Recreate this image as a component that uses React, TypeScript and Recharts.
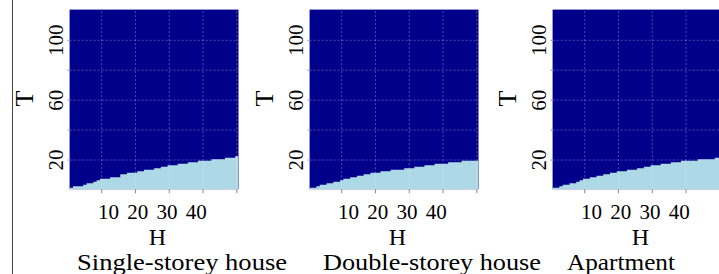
import { Area, AreaChart, CartesianGrid, ReferenceLine, XAxis, YAxis } from 'recharts';

// threshold T (last light-blue cell) for each H = 1..50
const singleStorey = [
  1, 2, 2, 2, 3, 4, 4, 5, 6, 7,
  7, 7, 8, 8, 8, 10, 10, 11, 11, 11,
  12, 12, 13, 13, 13, 14, 14, 15, 15, 16,
  16, 16, 17, 17, 17, 18, 18, 18, 19, 19,
  19, 19, 20, 20, 20, 20, 21, 21, 21, 22,
];
const doubleStorey = [
  1, 1, 2, 3, 3, 4, 4, 5, 5, 6,
  7, 7, 8, 8, 9, 9, 10, 10, 11, 11,
  11, 12, 12, 12, 13, 13, 13, 13, 14, 14,
  14, 15, 15, 15, 16, 16, 16, 17, 17, 17,
  17, 18, 18, 18, 18, 19, 19, 19, 19, 19,
];
const apartment = [
  1, 1, 2, 3, 3, 4, 4, 5, 6, 7,
  7, 8, 8, 9, 9, 10, 10, 11, 11, 12,
  12, 12, 13, 13, 13, 14, 14, 15, 15, 16,
  16, 16, 17, 17, 17, 18, 18, 18, 19, 19,
  19, 19, 19, 20, 20, 20, 20, 20, 21, 21,
];

const panelTitles = ['Single-storey house', 'Double-storey house', 'Apartment'];
const xTicks = [10, 20, 30, 40, 50];
const xLabelled = [10, 20, 30, 40];
const yTicks = [20, 40, 60, 80, 100];
const yLabelled = [20, 60, 100];

const NAVY = '#00008B';
const LIGHT = '#ADD8E6';
const FONT = '"Liberation Serif", "Times New Roman", serif';
const textStyle = { fontFamily: FONT };

const buildRows = (thr: number[]) => {
  const rows = thr.map((t, i) => ({ h: i + 0.5, t: t + 0.5 }));
  rows.push({ h: thr.length + 0.5, t: thr[thr.length - 1] + 0.5 });
  return rows;
};

const XTick = ({ x, payload }: any) => {
  const v = payload.value;
  if (!xLabelled.includes(v)) return null;
  return (
    <text x={x + (25 - v) * 0.46} y={219} textAnchor="middle" fontSize={21} style={textStyle} fill="#000">
      {v}
    </text>
  );
};

const YTick = ({ y, payload }: any) => {
  const v = payload.value;
  if (!yLabelled.includes(v)) return null;
  return (
    <text
      x={63.5}
      y={y}
      transform={`rotate(-90, 63.5, ${y})`}
      textAnchor="middle"
      fontSize={21}
      style={textStyle}
      fill="#000"
    >
      {v}
    </text>
  );
};

function Panel({ thr }: { thr: number[] }) {
  const rows = buildRows(thr);
  return (
    <AreaChart width={240} height={274} data={rows} margin={{ top: 9.6, right: 1.5, left: 0, bottom: 24.8 }}>
      <CartesianGrid horizontal={false} vertical={false} fill={NAVY} fillOpacity={1} />
      <XAxis
        type="number"
        dataKey="h"
        domain={[0.5, 50.5]}
        ticks={xTicks}
        allowDataOverflow
        axisLine={false}
        tickLine={{ stroke: '#888' }}
        tickSize={4}
        height={60}
        tick={<XTick />}
        label={{
          content: () => (
            <text x={157.5} y={245} textAnchor="middle" fontSize={24} style={textStyle} fill="#000">
              H
            </text>
          ),
        }}
      />
      <YAxis
        type="number"
        domain={[0.5, 120.5]}
        ticks={yTicks}
        allowDataOverflow
        axisLine={false}
        tickLine={{ stroke: '#888' }}
        tickSize={2}
        width={69.6}
        tick={<YTick />}
        label={{
          content: () => (
            <text
              x={33}
              y={98.5}
              transform="rotate(-90, 33, 98.5)"
              textAnchor="middle"
              fontSize={26}
              style={textStyle}
              fill="#000"
            >
              T
            </text>
          ),
        }}
      />
      <Area
        type="stepAfter"
        dataKey="t"
        baseValue={0.5}
        fill={LIGHT}
        fillOpacity={1}
        stroke="none"
        dot={false}
        activeDot={false}
        isAnimationActive={false}
      />
      {xTicks.map((v) => (
        <ReferenceLine key={`x${v}`} x={v} stroke="#fff" strokeOpacity={0.3} strokeDasharray="2 2" />
      ))}
      {yTicks.map((v) => (
        <ReferenceLine key={`y${v}`} y={v} stroke="#fff" strokeOpacity={0.3} strokeDasharray="2 2" />
      ))}
    </AreaChart>
  );
}

const panels = [singleStorey, doubleStorey, apartment];
const panelLeft = [0, 240, 482.5];
const titleX = [77, 323, 567];
const titleWidth = [210, 218, 108];

export default function App() {
  return (
    <div
      style={{
        position: 'absolute',
        left: 0,
        top: 0,
        width: 719,
        height: 274,
        overflow: 'hidden',
        background: '#fff',
        fontFamily: FONT,
      }}
    >
      <div style={{ position: 'absolute', left: 12, top: 0, width: 1, height: 274, background: '#444' }} />
      {panels.map((thr, i) => (
        <div key={i} style={{ position: 'absolute', left: panelLeft[i], top: 0 }}>
          <Panel thr={thr} />
        </div>
      ))}
      <svg width={719} height={274} style={{ position: 'absolute', left: 0, top: 0, pointerEvents: 'none' }}>
        {panelTitles.map((t, i) => (
          <text
            key={t}
            x={titleX[i]}
            y={270}
            fontSize={23}
            style={textStyle}
            fill="#000"
            textLength={titleWidth[i]}
            lengthAdjust="spacingAndGlyphs"
          >
            {t}
          </text>
        ))}
      </svg>
    </div>
  );
}
